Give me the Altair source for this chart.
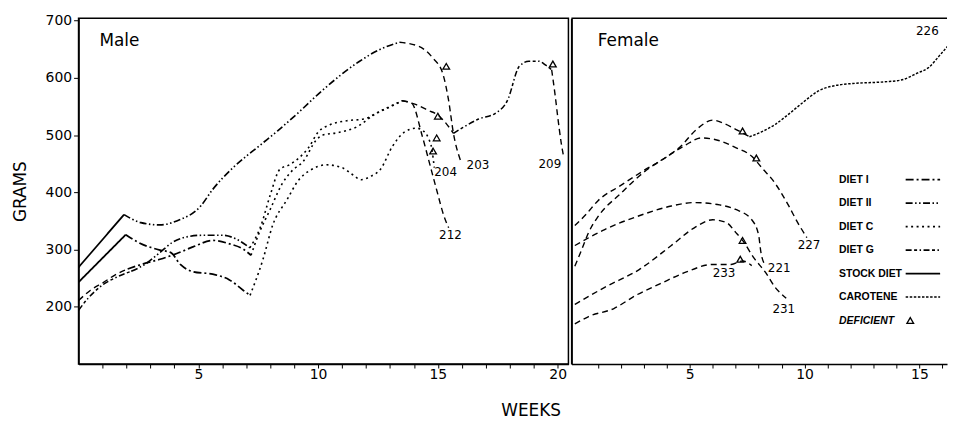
import altair as alt
import pandas as pd

# ---------------- data: weeks / grams ----------------
# MALE panel
m203_stock_w = [0, 1.9]
m203_stock_g = [269, 361]
m203_d2_w = [1.9, 2.6, 3.4, 4.1, 5.1, 5.6, 6.45, 7.6, 8.3, 9.2, 10.1, 11.7, 12.6, 13.4]
m203_d2_g = [361, 347, 343, 350, 376, 405, 443, 483, 507, 540, 575, 628, 650, 662]
m203_end_w = [13.4, 14.2, 14.8, 15.2, 15.45, 15.65, 15.95]
m203_end_g = [662, 655, 634, 608, 560, 503, 455]

m204_stock_w = [0, 1.97]
m204_stock_g = [243, 326]
m204_d1_w = [1.97, 2.47, 3.4, 3.84, 4.25, 4.8, 5.6, 6.3, 6.87, 7.16]
m204_d1_g = [326, 313, 299, 295, 274, 261, 257, 247, 229, 220]
m204_c_w = [7.16, 7.7, 8.1, 8.7, 9.2, 9.65, 10.35, 11.0, 11.4, 11.8, 12.2, 12.6, 13.1, 13.6, 14.1, 14.4, 14.6, 14.75, 14.85]
m204_c_g = [220, 283, 342, 387, 422, 438, 448, 443, 432, 422, 428, 440, 480, 505, 512, 507, 495, 475, 443]

m209_g_w = [0, 0.5, 1.06, 1.5, 2.05]
m209_g_g = [211, 229, 243, 255, 266]
m209_d1_w = [2.05, 2.7, 3.4, 4.1, 4.8, 5.6, 6.3, 6.9, 7.2]
m209_d1_g = [266, 275, 283, 293, 305, 316, 310, 300, 290]
m209_c_w = [7.2, 7.5, 8.0, 8.5, 8.9, 9.4, 9.9, 10.2, 10.8, 11.6, 12.4, 13.1, 13.5]
m209_c_g = [290, 325, 370, 415, 437, 455, 490, 500, 504, 514, 537, 551, 560]
m209_mid_w = [13.5, 14.1, 14.6, 15.0, 15.35, 15.65]
m209_mid_g = [560, 553, 543, 535, 520, 503]
m209_g2_w = [15.65, 16.0, 16.7, 17.4, 17.9, 18.4, 18.8, 19.2, 19.5, 19.75]
m209_g2_g = [503, 512, 528, 538, 560, 620, 629, 629, 622, 614]
m209_end_w = [19.75, 19.9, 20.0, 20.15, 20.25]
m209_end_g = [614, 568, 533, 486, 462]

m212_g_w = [0, 0.4, 1.0, 1.6, 2.2]
m212_g_g = [194, 215, 238, 252, 262]
m212_d2_w = [2.2, 2.8, 3.4, 3.9, 4.5, 5.2, 6.0, 6.6, 7.15]
m212_d2_g = [262, 275, 295, 312, 322, 325, 325, 318, 303]
m212_c_w = [7.15, 7.6, 8.0, 8.4, 8.8, 9.2, 9.6, 10.0, 10.5, 11.2, 11.9, 12.6, 13.5]
m212_c_g = [303, 340, 395, 440, 448, 460, 478, 505, 518, 525, 528, 542, 560]
m212_end_w = [13.5, 13.9, 14.35, 14.65, 14.95, 15.25, 15.45]
m212_end_g = [560, 556, 498, 451, 404, 359, 338]

# FEMALE panel
f226_w = [0, 0.5, 1.0, 2.0, 3.0, 4.0, 4.6, 5.3, 6.0, 6.5, 7.0, 7.6]
f226_g = [342, 362, 385, 412, 438, 462, 480, 510, 526, 520, 510, 497]
f226_car_w = [7.6, 8.1, 8.7, 9.2, 9.9, 10.6, 11.4, 12.1, 13.5, 14.2, 14.9, 15.4, 15.9, 16.5]
f226_car_g = [497, 505, 518, 533, 556, 577, 587, 590, 593, 596, 608, 618, 640, 668]
f227_w = [0, 0.3, 0.6, 1.0, 2.0, 3.0, 4.0, 4.8, 5.5, 6.3, 7.0, 7.7, 8.2, 8.6, 9.3, 9.7, 10.1]
f227_g = [271, 300, 330, 357, 398, 435, 462, 482, 495, 490, 478, 463, 440, 422, 377, 347, 321]
f221_w = [0, 1.3, 2.8, 4.2, 5.2, 6.3, 7.0, 7.7, 8.0, 8.1, 8.3]
f221_g = [307, 335, 359, 376, 382, 378, 370, 352, 325, 295, 272]
f231_w = [0, 1.3, 2.8, 4.2, 5.2, 6.0, 6.6, 7.0, 7.3, 7.8, 8.3, 8.7, 9.2]
f231_g = [204, 234, 265, 307, 338, 352, 347, 330, 316, 285, 260, 235, 215]
f233_w = [0, 0.6, 1.7, 2.7, 3.7, 4.8, 6.0, 6.8, 7.3, 7.7]
f233_g = [170, 183, 197, 221, 240, 260, 274, 274, 280, 272]

# "deficient" triangles
m_tri_w = [15.35, 15.0, 14.95, 14.8, 19.8]
m_tri_g = [620, 533, 495, 472, 624]
f_tri_w = [7.3, 7.9, 7.3, 7.2]
f_tri_g = [507, 460, 316, 283]

# rat numbers
m_lab_text = ["203", "204", "212", "209"]
m_lab_w = [16.2, 14.85, 15.05, 19.2]
m_lab_g = [448, 435, 325, 450]
f_lab_text = ["226", "227", "221", "233", "231"]
f_lab_w = [14.85, 9.7, 8.4, 6.0, 8.6]
f_lab_g = [681, 308, 267, 259, 196]

# legend
legend_names = ["DIET I", "DIET II", "DIET C", "DIET G", "STOCK DIET", "CAROTENE", "DEFICIENT"]
legend_styles = ["diet1", "diet2", "dietC", "dietG", "stock", "carotene", "deficient"]

# ---------------- styling tables ----------------
styles = ["stock", "diet1", "diet2", "dietC", "dietG", "carotene", "dashed"]
dashes = [[1, 0], [8, 3, 2, 3], [7, 2.5, 1.5, 2.5, 1.5, 2.5], [2, 3.5],
          [6, 2.5, 3, 2.5, 1.5, 2.5], [2.5, 1.6], [6, 4]]
widths = [1.8, 1.4, 1.4, 1.6, 1.4, 2.4, 1.4]

Y_DOM = [100, 704]
MX_DOM = [0, 20.45]
FX_DOM = [-0.15, 16.2]
FONT = "DejaVu Sans"


def seg(rows, name, style, ws, gs):
    for k, (w, g) in enumerate(zip(ws, gs)):
        rows.append(dict(seg=name, style=style, week=w, grams=g, i=k))


male_rows = []
seg(male_rows, "203a", "stock", m203_stock_w, m203_stock_g)
seg(male_rows, "203b", "diet2", m203_d2_w, m203_d2_g)
seg(male_rows, "203c", "dashed", m203_end_w, m203_end_g)
seg(male_rows, "204a", "stock", m204_stock_w, m204_stock_g)
seg(male_rows, "204b", "diet1", m204_d1_w, m204_d1_g)
seg(male_rows, "204c", "dietC", m204_c_w, m204_c_g)
seg(male_rows, "209a", "dashed", m209_g_w, m209_g_g)
seg(male_rows, "209b", "diet1", m209_d1_w, m209_d1_g)
seg(male_rows, "209c", "dietC", m209_c_w, m209_c_g)
seg(male_rows, "209d", "dashed", m209_mid_w, m209_mid_g)
seg(male_rows, "209e", "dietG", m209_g2_w, m209_g2_g)
seg(male_rows, "209f", "dashed", m209_end_w, m209_end_g)
seg(male_rows, "212a", "dietG", m212_g_w, m212_g_g)
seg(male_rows, "212b", "diet2", m212_d2_w, m212_d2_g)
seg(male_rows, "212c", "dietC", m212_c_w, m212_c_g)
seg(male_rows, "212d", "dashed", m212_end_w, m212_end_g)
male_df = pd.DataFrame(male_rows)

female_rows = []
seg(female_rows, "226a", "dashed", f226_w, f226_g)
seg(female_rows, "226b", "carotene", f226_car_w, f226_car_g)
seg(female_rows, "227", "dashed", f227_w, f227_g)
seg(female_rows, "221", "dashed", f221_w, f221_g)
seg(female_rows, "231", "dashed", f231_w, f231_g)
seg(female_rows, "233", "dashed", f233_w, f233_g)
female_df = pd.DataFrame(female_rows)

# legend tables (placed in the female panel, in data units)
leg_top, leg_step = 422, 41
leg_text_w, leg_line_w0, leg_line_w1, leg_tri_w = 11.5, 14.4, 15.9, 14.6
leg_grams = [leg_top - k * leg_step for k in range(len(legend_names))]
leg_text = pd.DataFrame({"name": legend_names, "grams": leg_grams,
                         "week": [leg_text_w] * len(legend_names)})
leg_text_plain = leg_text[leg_text["name"] != "DEFICIENT"]
leg_text_ital = leg_text[leg_text["name"] == "DEFICIENT"]
leg_line_rows = []
for k, st in enumerate(legend_styles):
    if st == "deficient":
        continue
    seg(leg_line_rows, "leg" + st, st, [leg_line_w0, leg_line_w1], [leg_grams[k], leg_grams[k]])
leg_lines = pd.DataFrame(leg_line_rows)
leg_tri = pd.DataFrame({"week": [leg_tri_w], "grams": [leg_grams[6]]})

dash_scale = alt.Scale(domain=styles, range=dashes)
width_scale = alt.Scale(domain=styles, range=widths)


def x_enc(dom, values, title, **kw):
    return alt.X("week:Q", scale=alt.Scale(domain=dom, nice=False, zero=False),
                 axis=alt.Axis(values=values,
                               labelExpr="datum.value % 5 == 0 ? datum.label : ''",
                               tickSize=4, labelFontSize=14, labelFont=FONT,
                               labelPadding=0, title=title, grid=False,
                               domainColor="black", domainWidth=1.5,
                               tickColor="black", labelColor="black", **kw))


def lines(df, xe, ye):
    return alt.Chart(df).mark_line(interpolate="monotone", color="black", clip=True).encode(
        x=xe, y=ye, detail="seg:N", order="i:Q",
        strokeDash=alt.StrokeDash("style:N", scale=dash_scale, legend=None),
        strokeWidth=alt.StrokeWidth("style:N", scale=width_scale, legend=None))


def triangles(df, xe, ye):
    return alt.Chart(df).mark_point(
        shape="triangle-up", filled=False, color="black", opacity=1,
        size=45, strokeWidth=1.3
    ).encode(x=xe, y=ye)


def labels(texts, ws, gs, xe, ye):
    return alt.Chart(pd.DataFrame({"t": texts, "week": ws, "grams": gs})).mark_text(
        align="left", baseline="middle", font=FONT, fontSize=12, color="black"
    ).encode(x=xe, y=ye, text="t:N")


def panel_title(text, w, xe, ye):
    return alt.Chart(pd.DataFrame({"t": [text], "week": [w], "grams": [665]})).mark_text(
        align="left", baseline="middle", font=FONT, fontSize=17, color="black"
    ).encode(x=xe, y=ye, text="t:N")


# ---------------- male panel ----------------
mx = x_enc(MX_DOM, list(range(1, 21)), "WEEKS",
           titleFont=FONT, titleFontSize=17, titleFontWeight="normal",
           titleX=455, titleY=47, titleBaseline="middle", titleColor="black")
my = alt.Y("grams:Q", scale=alt.Scale(domain=Y_DOM, nice=False, zero=False),
           axis=alt.Axis(values=[200, 300, 400, 500, 600, 700], tickSize=5,
                         labelFontSize=14, labelFont=FONT, labelPadding=2,
                         title="GRAMS", titleFont=FONT, titleFontSize=17,
                         titleFontWeight="normal", titlePadding=16, grid=False,
                         domainColor="black", domainWidth=1.5, tickColor="black",
                         labelColor="black", titleColor="black"))

male = alt.layer(
    lines(male_df, mx, my),
    triangles(pd.DataFrame({"week": m_tri_w, "grams": m_tri_g}), mx, my),
    labels(m_lab_text, m_lab_w, m_lab_g, mx, my),
    panel_title("Male", 0.87, mx, my),
).properties(width=493, height=348,
             view=alt.ViewBackground(stroke="black", strokeWidth=1.5))

# ---------------- female panel ----------------
fx = x_enc(FX_DOM, list(range(1, 17)), None)
fy = alt.Y("grams:Q", scale=alt.Scale(domain=Y_DOM, nice=False, zero=False),
           axis=alt.Axis(labels=False, ticks=False, title=None, grid=False,
                         domainColor="black", domainWidth=2))

top_rule = alt.Chart(pd.DataFrame({"grams": [Y_DOM[1]]})).mark_rule(
    color="black", strokeWidth=1.5).encode(y=fy)

leg_plain = alt.Chart(leg_text_plain).mark_text(
    align="left", baseline="middle", font="Liberation Sans", fontSize=10.5,
    fontWeight="bold", color="black"
).encode(x=fx, y=fy, text="name:N")
leg_ital = alt.Chart(leg_text_ital).mark_text(
    align="left", baseline="middle", font="Liberation Sans", fontSize=10.5,
    fontWeight="bold", fontStyle="italic", color="black"
).encode(x=fx, y=fy, text="name:N")

female = alt.layer(
    lines(female_df, fx, fy),
    lines(leg_lines, fx, fy),
    triangles(pd.DataFrame({"week": f_tri_w, "grams": f_tri_g}), fx, fy),
    triangles(leg_tri, fx, fy),
    leg_plain,
    leg_ital,
    labels(f_lab_text, f_lab_w, f_lab_g, fx, fy),
    panel_title("Female", 1.0, fx, fy),
    top_rule,
).properties(width=378, height=348,
             view=alt.ViewBackground(stroke="transparent"))

chart = alt.hconcat(male, female, spacing=0).properties(
    padding={"left": 2, "top": 3, "right": 0, "bottom": 0},
    background="white",
).configure_view(stroke="black")

chart.save("out.html", embed_options={"renderer": "svg", "actions": False})
